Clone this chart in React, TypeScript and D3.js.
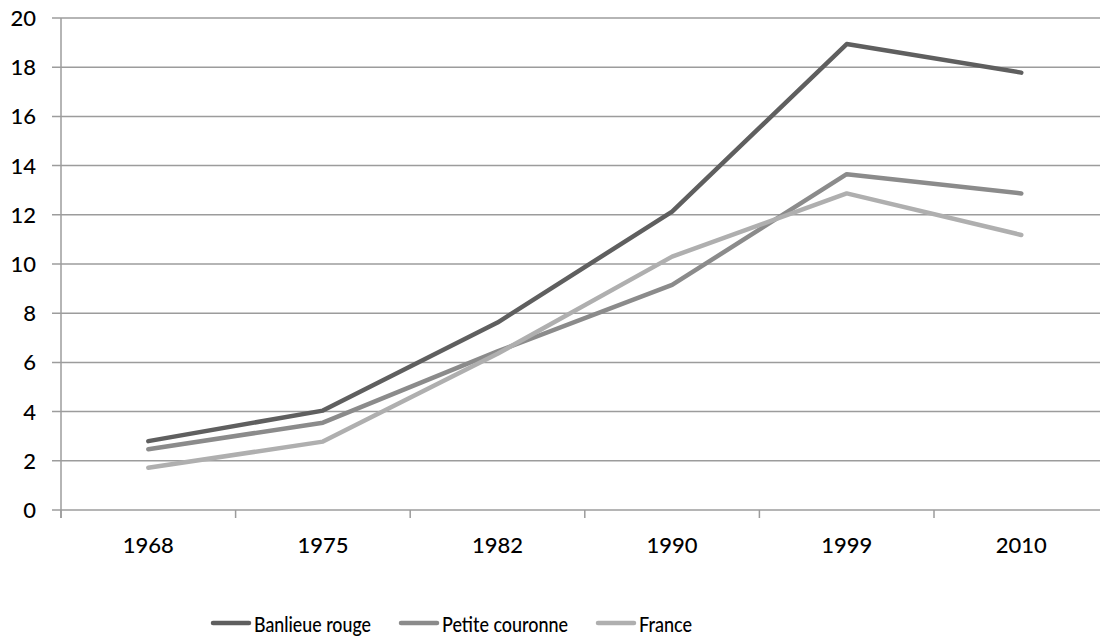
import * as d3 from "d3";

const years = ["1968", "1975", "1982", "1990", "1999", "2010"];
const banlieueRouge = [2.8, 4.04, 7.62, 12.13, 18.94, 17.78];
const petiteCouronne = [2.47, 3.55, 6.45, 9.15, 13.65, 12.87];
const france = [1.72, 2.78, 6.35, 10.3, 12.87, 11.18];
const yTicks = [0, 2, 4, 6, 8, 10, 12, 14, 16, 18, 20];

const series = [
  { name: "Banlieue rouge", values: banlieueRouge, color: "#5f5f5f", labelWidth: 117 },
  { name: "Petite couronne", values: petiteCouronne, color: "#8b8b8b", labelWidth: 126 },
  { name: "France", values: france, color: "#afafaf", labelWidth: 53 },
];

const width = 1100;
const height = 639;
const left = 61;
const band = 174.6;

const App = () => {
  const x = d3
    .scaleBand()
    .domain(years)
    .range([left, left + band * years.length]);
  const y = d3.scaleLinear().domain([0, 20]).range([510, 18]);

  const line = d3
    .line<number>()
    .x((_, i) => (x(years[i]) as number) + x.bandwidth() / 2)
    .y((d) => y(d));

  const gridColor = "#9c9c9c";
  const font = "Lato, sans-serif";

  // legend layout: swatch, small gap, label, then spacing
  let lx = 213;
  const legendItems = series.map((s) => {
    const item = { ...s, x: lx };
    lx += 38 + 4 + s.labelWidth + 29;
    return item;
  });

  return (
    <svg
      width={width}
      height={height}
      style={{ position: "absolute", left: 0, top: 0, background: "#fff" }}
    >
      {yTicks.map((t) => (
        <g key={t}>
          <line
            x1={left - 9}
            x2={width}
            y1={y(t)}
            y2={y(t)}
            stroke={gridColor}
            strokeWidth={1.5}
          />
          <text
            x={36}
            y={y(t)}
            dy="0.36em"
            textAnchor="end"
            fontFamily={font}
            fontSize={22}
            fontWeight={500}
            fill="#000"
          >
            {t}
          </text>
        </g>
      ))}
      <line x1={left} x2={left} y1={y(20)} y2={y(0) + 8} stroke={gridColor} strokeWidth={1.5} />
      {years.map((yr) => (
        <g key={yr}>
          <line
            x1={x(yr) as number}
            x2={x(yr) as number}
            y1={y(0)}
            y2={y(0) + 8}
            stroke={gridColor}
            strokeWidth={1.5}
          />
          <text
            x={(x(yr) as number) + x.bandwidth() / 2}
            y={553}
            textAnchor="middle"
            fontFamily={font}
            fontSize={22}
            fontWeight={500}
            fill="#000"
          >
            {yr}
          </text>
        </g>
      ))}
      {series.map((s) => (
        <path
          key={s.name}
          d={line(s.values) as string}
          fill="none"
          stroke={s.color}
          strokeWidth={4.5}
          strokeLinejoin="round"
          strokeLinecap="round"
        />
      ))}
      {legendItems.map((s) => (
        <g key={s.name}>
          <line
            x1={s.x}
            x2={s.x + 36}
            y1={623}
            y2={623}
            stroke={s.color}
            strokeWidth={4.5}
            strokeLinecap="round"
          />
          <text
            x={s.x + 41}
            y={632}
            fontFamily={font}
            fontSize={22}
            fontWeight={500}
            textLength={s.labelWidth}
            lengthAdjust="spacingAndGlyphs"
            fill="#000"
          >
            {s.name}
          </text>
        </g>
      ))}
    </svg>
  );
};

export default App;
